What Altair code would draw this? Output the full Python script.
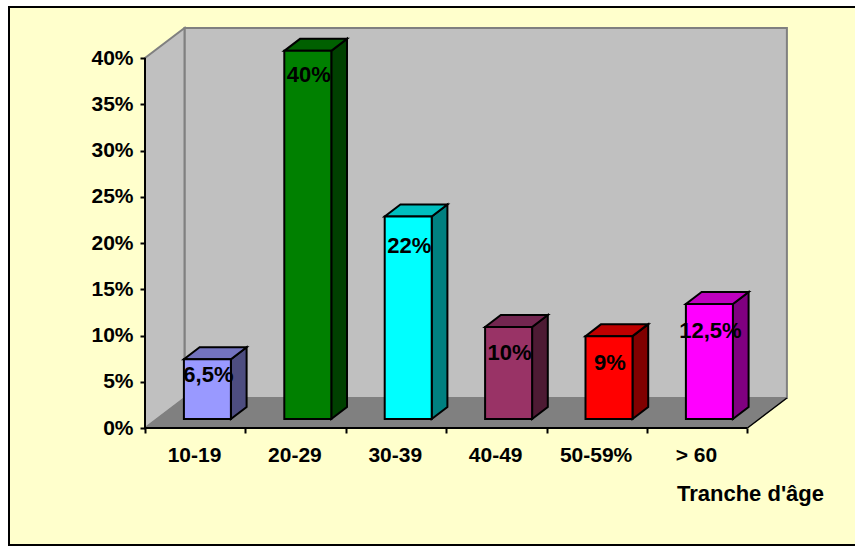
import json
import altair as alt
import pandas as pd

# Chart values
categories = ["10-19", "20-29", "30-39", "40-49", "50-59%", "> 60"]
shares = [6.5, 40, 22, 10, 9, 12.5]
share_labels = ["6,5%", "40%", "22%", "10%", "9%", "12,5%"]
front_colors = ["#9999FF", "#008000", "#00FFFF", "#993366", "#FF0000", "#FF00FF"]
side_colors = ["#4D4D80", "#004000", "#008080", "#4D1A33", "#800000", "#800080"]
top_colors = ["#7373BF", "#006000", "#00BFBF", "#732650", "#BF0000", "#BF00BF"]

# Layout of the pseudo-3D box, in pixels
PLOT_W, PLOT_H = 643, 400
PAD = {"left": 145, "top": 28, "right": 67, "bottom": 118}
PX_PER_CAT = 100.4
PX_PER_PCT = 9.25
WALL_DX, WALL_DY = 39.5, 30
BAR_LIFT_X, BAR_LIFT_Y = 12.2, 9
BAR_W = 47
BAR_DX, BAR_DY = 15.7, 12
BAR_PERSPECTIVE = 0.995
LABEL_DROP = [16, 24, 29, 26, 27, 27]

# Same layout in scale units
wall_dx = WALL_DX / PX_PER_CAT
wall_dy = WALL_DY / PX_PER_PCT
lift_x = BAR_LIFT_X / PX_PER_CAT
lift_y = BAR_LIFT_Y / PX_PER_PCT
half_w = BAR_W / 2 / PX_PER_CAT
bar_dx = BAR_DX / PX_PER_CAT
bar_dy = BAR_DY / PX_PER_PCT
n = len(categories)

x_scale = alt.Scale(domain=[0, PLOT_W / PX_PER_CAT], nice=False, zero=False)
y_scale = alt.Scale(domain=[0, PLOT_H / PX_PER_PCT], nice=False, zero=False)

# Front faces and value labels
fronts = pd.DataFrame(
    [
        {
            "x": i + 0.5 + lift_x - half_w,
            "x2": i + 0.5 + lift_x + half_w,
            "y": lift_y,
            "y2": lift_y + v * BAR_PERSPECTIVE,
            "fill": front_colors[i],
            "lx": i + 0.5 + lift_x + 1 / PX_PER_CAT,
            "ly": lift_y + v * BAR_PERSPECTIVE - LABEL_DROP[i] / PX_PER_PCT,
            "label": share_labels[i],
        }
        for i, v in enumerate(shares)
    ]
)

# Side and top faces of each bar
sides, tops = [], []
for i, v in enumerate(shares):
    height = v * BAR_PERSPECTIVE
    right = i + 0.5 + lift_x + half_w
    left = right - 2 * half_w
    for step in (0, 1):
        sides.append(
            {
                "bar": i,
                "x": right + step * bar_dx,
                "y": lift_y + step * bar_dy,
                "y2": lift_y + height + step * bar_dy,
                "fill": side_colors[i],
            }
        )
        tops.append(
            {
                "bar": i,
                "y": lift_y + height + step * bar_dy,
                "x": left + step * bar_dx,
                "x2": right + step * bar_dx,
                "fill": top_colors[i],
            }
        )
sides = pd.DataFrame(sides)
tops = pd.DataFrame(tops)

# Walls and floor of the box
back_wall = pd.DataFrame(
    [{"x": wall_dx, "x2": n + wall_dx, "y": wall_dy, "y2": 40 + wall_dy}]
)
side_wall = pd.DataFrame(
    [
        {"x": 0, "y": 0, "y2": 40},
        {"x": wall_dx, "y": wall_dy, "y2": 40 + wall_dy},
    ]
)
floor = pd.DataFrame(
    [
        {"y": 0, "x": 0, "x2": n},
        {"y": wall_dy, "x": wall_dx, "x2": n + wall_dx},
    ]
)
floor_edge = pd.DataFrame([{"x": n, "y": 0}, {"x": n + wall_dx, "y": wall_dy}])
bottom_line = pd.DataFrame([{"x": 0, "x2": n, "y": 0}])
left_line = pd.DataFrame([{"x": 0, "y": 0, "y2": 40}])

# Panel behind everything, reaching past the plot area
panel = pd.DataFrame(
    [
        {
            "x": (9 - PAD["left"]) / PX_PER_CAT,
            "x2": (880 - PAD["left"]) / PX_PER_CAT,
            "y": (PAD["top"] + PLOT_H - 545) / PX_PER_PCT,
            "y2": (PAD["top"] + PLOT_H - 7) / PX_PER_PCT,
        }
    ]
)

FONT = "Liberation Sans"
cat_expr = "[" + ",".join(json.dumps(c) for c in categories) + ",''][datum.value]"

x_axis = alt.Axis(
    values=list(range(n + 1)),
    labelExpr=cat_expr,
    labelOffset=49,
    labelOverlap=False,
    labelFlush=False,
    labelFont=FONT,
    labelFontSize=21,
    labelFontWeight="bold",
    labelColor="black",
    labelPadding=11,
    tickColor="black",
    tickSize=5,
    tickWidth=2,
    domain=False,
    grid=False,
    zindex=1,
    title="Tranche d'âge",
    titleFont=FONT,
    titleFontSize=22,
    titleFontWeight="bold",
    titleColor="black",
    titleAlign="center",
    titleBaseline="middle",
    titleX=605,
    titleY=65,
)
y_axis = alt.Axis(
    values=list(range(0, 45, 5)),
    labelExpr="datum.value + '%'",
    labelOverlap=False,
    labelFlush=False,
    labelFont=FONT,
    labelFontSize=21,
    labelFontWeight="bold",
    labelColor="black",
    labelPadding=7,
    tickColor="black",
    tickSize=5,
    tickWidth=2,
    domain=False,
    grid=False,
    zindex=1,
    title=None,
)


def X(axis=None):
    return alt.X("x:Q", scale=x_scale, axis=axis, title="Tranche d'âge" if axis else None)


def Y(axis=None):
    return alt.Y("y:Q", scale=y_scale, axis=axis, title=None)


X2 = alt.X2("x2:Q")
Y2 = alt.Y2("y2:Q")
fill = alt.Fill("fill:N", scale=None, legend=None)

layers = [
    alt.Chart(panel)
    .mark_rect(fill="#FFFFCC", stroke="black", strokeWidth=2)
    .encode(x=X(x_axis), x2=X2, y=Y(y_axis), y2=Y2),
    alt.Chart(back_wall)
    .mark_rect(fill="#C0C0C0", stroke="#808080", strokeWidth=2)
    .encode(x=X(), x2=X2, y=Y(), y2=Y2),
    alt.Chart(side_wall)
    .mark_area(fill="#C0C0C0", stroke="#808080", strokeWidth=2)
    .encode(x=X(), y=Y(), y2=Y2),
    alt.Chart(floor)
    .mark_area(orient="horizontal", fill="#808080", stroke="#808080", strokeWidth=1)
    .encode(y=Y(), x=X(), x2=X2),
    alt.Chart(floor_edge)
    .mark_line(color="black", strokeWidth=1.5)
    .encode(x=X(), y=Y()),
    alt.Chart(bottom_line)
    .mark_rule(color="black", strokeWidth=2)
    .encode(x=X(), x2=X2, y=Y()),
    alt.Chart(left_line)
    .mark_rule(color="black", strokeWidth=2)
    .encode(x=X(), y=Y(), y2=Y2),
    alt.Chart(sides)
    .mark_area(stroke="black", strokeWidth=2)
    .encode(x=X(), y=Y(), y2=Y2, fill=fill, detail="bar:N"),
    alt.Chart(tops)
    .mark_area(orient="horizontal", stroke="black", strokeWidth=2)
    .encode(y=Y(), x=X(), x2=X2, fill=fill, detail="bar:N"),
    alt.Chart(fronts)
    .mark_rect(stroke="black", strokeWidth=2)
    .encode(x=X(), x2=X2, y=Y(), y2=Y2, fill=fill),
    alt.Chart(fronts)
    .mark_text(font=FONT, fontSize=22, fontWeight="bold", color="black", baseline="middle")
    .encode(
        x=alt.X("lx:Q", scale=x_scale, axis=None),
        y=alt.Y("ly:Q", scale=y_scale, axis=None),
        text="label:N",
    ),
]

chart = (
    alt.layer(*layers)
    .resolve_axis(x="independent", y="independent")
    .properties(
        width=PLOT_W,
        height=PLOT_H,
        padding=PAD,
        autosize=alt.AutoSizeParams(type="none"),
        background="white",
    )
    .configure_view(stroke=None)
)

chart.save("out.html", embed_options={"renderer": "svg", "actions": False})
